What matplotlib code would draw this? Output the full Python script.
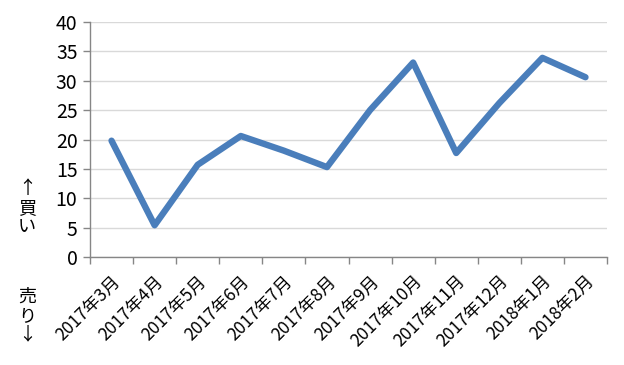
import matplotlib
matplotlib.use("Agg")
import matplotlib.pyplot as plt
import numpy as np

plt.rcParams['font.family'] = ['Noto Sans CJK JP', 'DejaVu Sans']

months = ["2017年3月", "2017年4月", "2017年5月", "2017年6月", "2017年7月", "2017年8月",
          "2017年9月", "2017年10月", "2017年11月", "2017年12月", "2018年1月", "2018年2月"]
values = [19.8, 5.4, 15.7, 20.6, 18.1, 15.3, 25.0, 33.1, 17.7, 26.2, 33.9, 30.6]
yticks = [0, 5, 10, 15, 20, 25, 30, 35, 40]

fig = plt.figure(figsize=(6.24, 3.65), dpi=100)
ax = fig.add_axes([0.1442, 0.2959, 0.8286, 0.6438])

x = np.arange(len(months))
ax.plot(x, values, color="#4a7ebb", lw=4.6, solid_joinstyle='round', solid_capstyle='round', zorder=3)

ax.set_xlim(-0.5, len(months) - 0.5)
ax.set_ylim(0, 40)
ax.set_yticks(yticks)
ax.set_yticklabels([str(v) for v in yticks], fontsize=14)
ax.yaxis.grid(True, color="#d9d9d9", lw=1)
ax.set_axisbelow(True)

ax.set_xticks(np.arange(len(months) + 1) - 0.5)
ax.set_xticklabels([])
ax.set_xticks(x, minor=True)
ax.set_xticklabels(months, minor=True, rotation=45, ha='right', va='top',
                   rotation_mode='anchor', fontsize=12.5)
ax.tick_params(axis='x', which='minor', length=0, pad=11)
ax.tick_params(axis='x', which='major', length=5, color="#868686", width=1)
ax.tick_params(axis='y', length=5, color="#868686", width=1, pad=4)

for s in ['top', 'right']:
    ax.spines[s].set_visible(False)
for s in ['left', 'bottom']:
    ax.spines[s].set_color("#868686")
    ax.spines[s].set_linewidth(1)

fig.text(0.043, 0.43, "↑\n買\nい", fontsize=13, ha='center', va='center', linespacing=1.05)
fig.text(0.043, 0.135, "売\nり\n↓", fontsize=13, ha='center', va='center', linespacing=1.05)

fig.savefig("out.png", dpi=100)
